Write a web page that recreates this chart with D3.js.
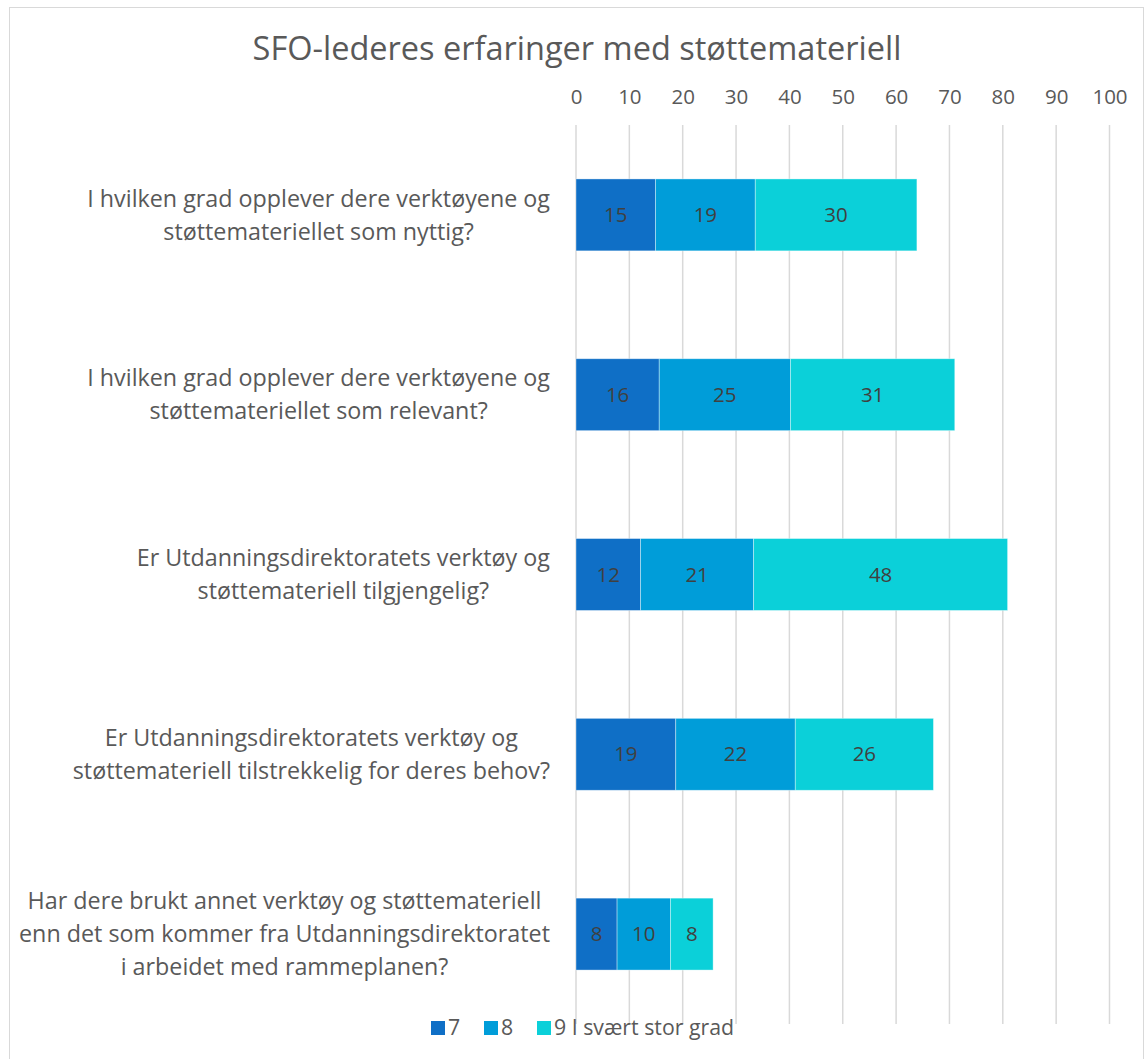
<!DOCTYPE html>
<html>
<head>
<meta charset="utf-8">
<script src="https://cdn.jsdelivr.net/npm/d3@7"></script>
<style>
  body { margin: 0; background: #fff; }
  svg text { font-family: "Open Sans", Lato, sans-serif; }
</style>
</head>
<body>
<div id="chart"></div>
<script>
const categories = [
  ["I hvilken grad opplever dere verktøyene og", "støttemateriellet som nyttig?"],
  ["I hvilken grad opplever dere verktøyene og", "støttemateriellet som relevant?"],
  ["Er Utdanningsdirektoratets verktøy og", "støttemateriell tilgjengelig?"],
  ["Er Utdanningsdirektoratets verktøy og", "støttemateriell tilstrekkelig for deres behov?"],
  ["Har dere brukt annet verktøy og støttemateriell", "enn det som kommer fra Utdanningsdirektoratet", "i arbeidet med rammeplanen?"]
];
const seriesNames = ["7", "8", "9 I svært stor grad"];
// percentages, labels shown rounded
const values7 = [14.9, 15.6, 12.1, 18.7, 7.7];
const values8 = [18.7, 24.6, 21.2, 22.4, 10.0];
const values9 = [30.3, 30.8, 47.6, 25.9, 8.0];
const xTicks = [0, 10, 20, 30, 40, 50, 60, 70, 80, 90, 100];
const colors = ["#0F6FC6", "#009DD9", "#0BD0D9"];

const W = 1145, H = 1059;
const margin = { top: 125, right: 35.5, bottom: 35, left: 576 };
const width = W - margin.left - margin.right;
const height = H - margin.top - margin.bottom;

const svg = d3.select("#chart").append("svg")
  .attr("width", W)
  .attr("height", H);

svg.append("rect")
  .attr("x", 9.5).attr("y", 7.5)
  .attr("width", 1134).attr("height", 1060)
  .attr("fill", "#fff")
  .attr("stroke", "#d9d9d9");

svg.append("text")
  .attr("x", 577).attr("y", 60)
  .attr("text-anchor", "middle")
  .attr("fill", "#595959")
  .attr("font-size", 32.5)
  .text("SFO-lederes erfaringer med støttemateriell");

const g = svg.append("g")
  .attr("transform", `translate(${margin.left},${margin.top})`);

const x = d3.scaleLinear().domain([0, 100]).range([0, width]);
const y = d3.scaleBand().domain(d3.range(categories.length)).range([0, height]).paddingInner(0.6).paddingOuter(0.3);

// gridlines
g.selectAll(".grid")
  .data(xTicks)
  .enter().append("line")
  .attr("class", "grid")
  .attr("x1", d => x(d)).attr("x2", d => x(d))
  .attr("y1", 0).attr("y2", height)
  .attr("stroke", "#d9d9d9")
  .attr("stroke-width", 1.5);

// top axis
const xAxis = d3.axisTop(x).tickValues(xTicks).tickSize(0).tickPadding(0);
const axisG = g.append("g")
  .attr("transform", "translate(0,-21)")
  .call(xAxis);
axisG.select(".domain").remove();
axisG.selectAll("text")
  .attr("font-size", 20.5)
  .attr("fill", "#595959")
  .attr("font-family", "'Open Sans', sans-serif");

// stacked data
const table = categories.map((c, i) => ({ i: i, s0: values7[i], s1: values8[i], s2: values9[i] }));
const stack = d3.stack().keys(["s0", "s1", "s2"]);
const stacked = stack(table);
const fmt = d3.format(".0f");

const layers = g.selectAll(".layer")
  .data(stacked)
  .enter().append("g")
  .attr("class", "layer")
  .attr("fill", (d, k) => colors[k]);

layers.selectAll("rect")
  .data(d => d)
  .enter().append("rect")
  .attr("x", d => x(d[0]))
  .attr("y", d => y(d.data.i))
  .attr("width", d => x(d[1]) - x(d[0]))
  .attr("height", y.bandwidth())
  .attr("stroke", "#ffffff")
  .attr("stroke-opacity", 0.5)
  .attr("stroke-width", 0.75);

layers.selectAll("text")
  .data(d => d)
  .enter().append("text")
  .attr("x", d => (x(d[0]) + x(d[1])) / 2)
  .attr("y", d => y(d.data.i) + y.bandwidth() / 2)
  .attr("dy", "0.35em")
  .attr("text-anchor", "middle")
  .attr("fill", "#404040")
  .attr("font-size", 20.5)
  .text(d => fmt(d[1] - d[0]));

// category labels, each block centered on itself, widest line ending at labelRight
const labelRight = 550 - margin.left;
const lineH = 33;
categories.forEach((lines, i) => {
  const block = g.append("g");
  const cy = y(i) + y.bandwidth() / 2;
  const texts = block.selectAll("text")
    .data(lines)
    .enter().append("text")
    .attr("y", (d, k) => cy + (k - (lines.length - 1) / 2) * lineH)
    .attr("dy", "0.35em")
    .attr("text-anchor", "middle")
    .attr("fill", "#595959")
    .attr("font-size", 23.3)
    .text(d => d);
  const maxW = d3.max(texts.nodes(), n => n.getComputedTextLength());
  texts.attr("x", labelRight - maxW / 2);
});

// legend
const legendX = [431, 484, 537];
const legend = svg.append("g");
seriesNames.forEach((name, k) => {
  legend.append("rect")
    .attr("x", legendX[k]).attr("y", 1021)
    .attr("width", 14).attr("height", 14)
    .attr("fill", colors[k]);
  legend.append("text")
    .attr("x", legendX[k] + 17).attr("y", 1028)
    .attr("dy", "0.35em")
    .attr("fill", "#595959")
    .attr("font-size", 21.3)
    .text(name);
});
</script>
</body>
</html>
